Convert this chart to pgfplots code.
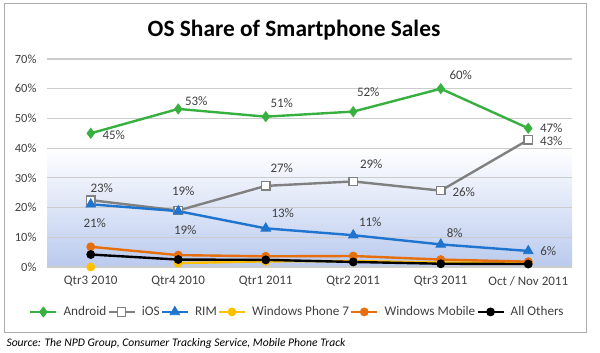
\documentclass[border=0pt]{standalone}
\usepackage{pgfplots}
\pgfplotsset{compat=1.18}
\usepackage{fontspec}
\setmainfont{Carlito}
\definecolor{andr}{RGB}{56,176,64}
\definecolor{iosg}{RGB}{128,128,128}
\definecolor{rimb}{RGB}{30,116,206}
\definecolor{wpy}{RGB}{255,192,0}
\definecolor{wmo}{RGB}{230,110,12}
\definecolor{bgb}{RGB}{186,202,238}
\definecolor{txt}{RGB}{64,64,64}
\tikzset{lbl/.style={font=\fontsize{13}{15}\selectfont, text=txt}}
\begin{document}
\begin{tikzpicture}
\draw[gray!65, line width=1pt] (4pt,-4pt) rectangle (586pt,-332pt);
\node[anchor=base, font=\fontsize{23.4}{26}\selectfont\bfseries] at (294pt,-37pt) {OS Share of Smartphone Sales};
\node[anchor=base west, font=\fontsize{11.6}{13}\selectfont\itshape] at (3pt,-346pt) {Source: The NPD Group, Consumer Tracking Service, Mobile Phone Track};
\begin{axis}[
  at={(47pt,-267pt)}, anchor=south west,
  scale only axis, width=525pt, height=208pt,
  set layers,
  xmin=-0.5, xmax=5.5, ymin=0, ymax=70,
  xtick={0,...,5},
  xticklabels={Qtr3 2010,Qtr4 2010,Qtr1 2011,Qtr2 2011,Qtr3 2011,Oct / Nov 2011},
  ytick={0,10,...,70},
  yticklabel={\pgfmathprintnumber{\tick}\%},
  /pgf/number format/assume math mode=true,
  ticklabel style={font=\fontsize{13}{15}\selectfont, text=txt},
  yticklabel style={xshift=-7pt, font=\fontsize{12.5}{14}\selectfont},
  xticklabel style={yshift=-6pt},
  axis line style={draw=none},
  tick style={draw=none},
  ymajorgrids,
  grid style={gray!40, line width=1.2pt},
  every axis plot/.append style={line width=2.4pt},
  legend columns=6,
  legend style={at={(0.476,-0.216)}, anchor=center, draw=none, fill=none,
    font=\fontsize{13.2}{15}\selectfont, text=txt,
    nodes={inner xsep=1pt},
    /tikz/every even column/.append style={column sep=0pt},
    /tikz/every odd column/.append style={column sep=5pt},
    inner sep=0pt},
  legend image code/.code={\draw[mark repeat=2,mark phase=2] plot coordinates {(0pt,0pt)(13pt,0pt)(26pt,0pt)};},
  legend cell align=left,
]
\addplot[draw=none, top color=white, bottom color=bgb, forget plot, on layer=axis background] coordinates {(-0.5,40) (5.5,40)} \closedcycle;
\addplot[andr, mark=diamond*, mark size=5pt, mark options={solid, line width=0.8pt}] coordinates {(0,45) (1,53.2) (2,50.6) (3,52.3) (4,60) (5,46.7)};
\addlegendentry{Android}
\addplot[iosg, mark=square*, mark size=4.2pt, mark options={fill=white, draw=iosg, line width=1.2pt}] coordinates {(0,22.5) (1,19) (2,27.3) (3,28.8) (4,25.7) (5,42.8)};
\addlegendentry{iOS}
\addplot[rimb, mark=triangle*, mark size=5.5pt, mark options={line width=0.8pt}] coordinates {(0,21.1) (1,18.8) (2,13) (3,10.7) (4,7.6) (5,5.4)};
\addlegendentry{RIM}
\addplot[wpy, mark=*, mark size=4pt, mark options={line width=0.8pt}] coordinates {(1,1.3) (2,1.9) (3,2.0) (4,1.5) (5,1.4)};
\addlegendentry{Windows Phone 7}
\addplot[wmo, mark=*, mark size=4pt, mark options={line width=0.8pt}] coordinates {(0,6.8) (1,4.0) (2,3.6) (3,3.7) (4,2.5) (5,1.8)};
\addlegendentry{Windows Mobile}
\addplot[black, mark=*, mark size=4pt, mark options={line width=0.8pt}] coordinates {(0,4.2) (1,2.5) (2,2.4) (3,1.7) (4,1.1) (5,1.0)};
\addlegendentry{All Others}
\addplot[wpy, mark=*, mark size=4pt, mark options={line width=0.8pt}, forget plot] coordinates {(0,0)};
\node[lbl] at (axis cs:0,45) [xshift=23pt, yshift=-2pt] {45\%};
\node[lbl] at (axis cs:1,53.2) [xshift=18pt, yshift=8pt] {53\%};
\node[lbl] at (axis cs:2,50.6) [xshift=16pt, yshift=14pt] {51\%};
\node[lbl] at (axis cs:3,52.3) [xshift=15pt, yshift=19pt] {52\%};
\node[lbl] at (axis cs:4,60) [xshift=20pt, yshift=14pt] {60\%};
\node[lbl] at (axis cs:5,46.7) [xshift=23pt, yshift=0pt] {47\%};
\node[lbl] at (axis cs:0,22.5) [xshift=11pt, yshift=12pt] {23\%};
\node[lbl] at (axis cs:1,19) [xshift=5pt, yshift=19pt] {19\%};
\node[lbl] at (axis cs:2,27.3) [xshift=16pt, yshift=18pt] {27\%};
\node[lbl] at (axis cs:3,28.8) [xshift=18pt, yshift=17pt] {29\%};
\node[lbl] at (axis cs:4,25.7) [xshift=23pt, yshift=-1pt] {26\%};
\node[lbl] at (axis cs:5,42.8) [xshift=23pt, yshift=-1pt] {43\%};
\node[lbl] at (axis cs:0,21.1) [xshift=4pt, yshift=-19pt] {21\%};
\node[lbl] at (axis cs:1,18.8) [xshift=7pt, yshift=-19pt] {19\%};
\node[lbl] at (axis cs:2,13) [xshift=17pt, yshift=15pt] {13\%};
\node[lbl] at (axis cs:3,10.7) [xshift=17pt, yshift=13pt] {11\%};
\node[lbl] at (axis cs:4,7.6) [xshift=14pt, yshift=11pt] {8\%};
\node[lbl] at (axis cs:5,5.4) [xshift=20pt, yshift=0pt] {6\%};
\end{axis}
\pgfresetboundingbox
\useasboundingbox (0,0) rectangle (600pt,-353pt);
\end{tikzpicture}
\end{document}
